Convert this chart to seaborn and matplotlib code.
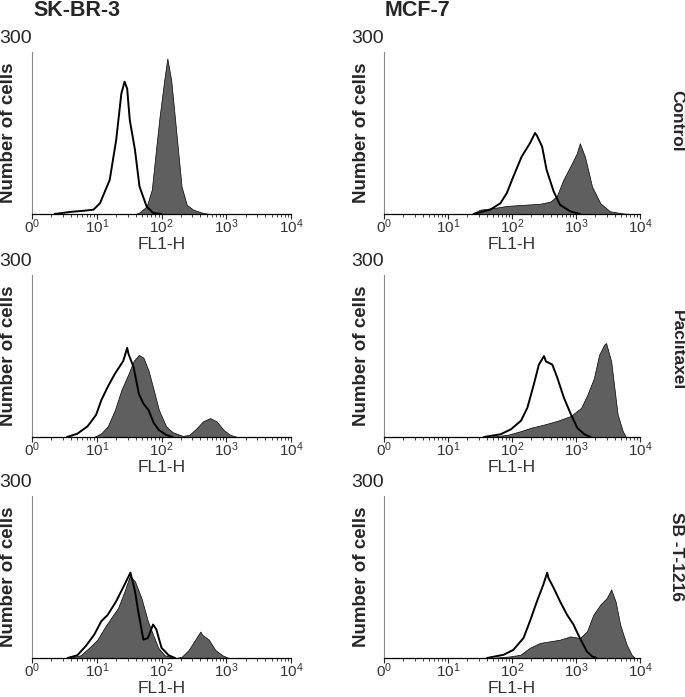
import numpy as np
import matplotlib
matplotlib.use("Agg")
import matplotlib.pyplot as plt
import seaborn as sns

sns.set_style("white")
plt.rcParams['font.family'] = ['Liberation Sans', 'DejaVu Sans']
plt.rcParams['mathtext.default'] = 'regular'

# positions are log10(FL1-H) in decades, heights are cell counts (axis 0-300)
cols = ["SK-BR-3", "MCF-7"]
rows = ["Control", "Paclitaxel", "SB -T-1216"]
tick_labels = ["0$^0$", "10$^1$", "10$^2$", "10$^3$", "10$^4$"]

# SK-BR-3 control
skbr_ctrl_open_x = [0.35, 0.6, 0.8, 0.95, 1.05, 1.2, 1.3, 1.38, 1.43, 1.47, 1.51, 1.59, 1.66, 1.77, 1.87, 2.0]
skbr_ctrl_open_y = [0, 4, 6, 8, 20, 63, 137, 223, 245, 232, 174, 119, 51, 14, 2, 0]
skbr_ctrl_fill_x = [1.6, 1.66, 1.77, 1.85, 1.92, 1.97, 2.05, 2.09, 2.15, 2.23, 2.31, 2.39, 2.49, 2.64, 2.75]
skbr_ctrl_fill_y = [0, 3, 14, 45, 125, 180, 255, 288, 248, 150, 51, 17, 8, 2, 0]

# MCF-7 control
mcf_ctrl_open_x = [1.4, 1.66, 1.82, 1.92, 2.02, 2.15, 2.28, 2.36, 2.39, 2.47, 2.54, 2.65, 2.75, 2.91, 3.06]
mcf_ctrl_open_y = [0, 8, 20, 39, 69, 106, 131, 150, 145, 125, 82, 42, 17, 5, 0]
mcf_ctrl_fill_x = [1.37, 1.5, 1.71, 1.92, 2.18, 2.44, 2.6, 2.7, 2.8, 2.91, 3.01, 3.06, 3.14, 3.25, 3.38, 3.53, 3.74, 3.85]
mcf_ctrl_fill_y = [0, 8, 11, 15, 17, 19, 23, 33, 63, 88, 112, 131, 106, 51, 20, 5, 1, 0]

# SK-BR-3 paclitaxel
skbr_pac_open_x = [0.54, 0.7, 0.86, 0.99, 1.07, 1.17, 1.28, 1.41, 1.47, 1.49, 1.57, 1.65, 1.72, 1.8, 1.88, 1.96, 2.07, 2.17]
skbr_pac_open_y = [0, 6, 20, 41, 68, 93, 117, 141, 165, 154, 129, 80, 62, 50, 26, 13, 4, 0]
skbr_pac_fill_x = [0.96, 1.07, 1.17, 1.28, 1.38, 1.49, 1.57, 1.65, 1.72, 1.8, 1.88, 1.96, 2.07, 2.17, 2.33,
                   2.43, 2.54, 2.64, 2.75, 2.85, 2.96, 3.06, 3.17]
skbr_pac_fill_y = [0, 7, 20, 50, 87, 117, 141, 152, 147, 123, 87, 50, 20, 9, 2,
                   4, 16, 29, 35, 29, 13, 4, 0]

# MCF-7 paclitaxel
mcf_pac_open_x = [1.56, 1.82, 1.98, 2.14, 2.24, 2.34, 2.42, 2.5, 2.53, 2.63, 2.71, 2.81, 2.92, 3.02, 3.13, 3.23]
mcf_pac_open_y = [0, 5, 14, 30, 54, 97, 134, 150, 140, 134, 109, 73, 42, 17, 5, 0]
mcf_pac_fill_x = [1.61, 1.93, 2.14, 2.29, 2.5, 2.71, 2.92, 3.08, 3.18, 3.28, 3.36, 3.44, 3.47, 3.55, 3.6,
                  3.65, 3.73, 3.78]
mcf_pac_fill_y = [0, 4, 11, 17, 23, 30, 39, 54, 79, 109, 152, 171, 174, 140, 91, 42, 11, 0]

# SK-BR-3 SB-T-1216
skbr_sbt_open_x = [0.55, 0.7, 0.83, 0.96, 1.07, 1.17, 1.3, 1.43, 1.52, 1.59, 1.64, 1.72, 1.79, 1.87, 1.92,
                   2.0, 2.11, 2.21]
skbr_sbt_open_y = [0, 5, 22, 43, 68, 80, 105, 136, 158, 124, 87, 34, 37, 62, 53, 19, 5, 0]
skbr_sbt_fill_x = [0.57, 0.75, 0.91, 1.01, 1.12, 1.22, 1.33, 1.43, 1.51, 1.59, 1.69, 1.79, 1.87, 1.95, 2.05,
                   2.21, 2.31, 2.42, 2.52, 2.6, 2.63, 2.73, 2.83, 2.94, 3.04]
skbr_sbt_fill_y = [0, 5, 22, 34, 56, 74, 93, 124, 152, 142, 111, 68, 43, 19, 5,
                   0, 2, 15, 34, 49, 43, 34, 15, 5, 0]

# MCF-7 SB-T-1216
mcf_sbt_open_x = [1.61, 1.87, 2.02, 2.18, 2.28, 2.39, 2.49, 2.55, 2.57, 2.65, 2.75, 2.86, 2.96, 3.06, 3.17,
                  3.25, 3.32]
mcf_sbt_open_y = [0, 6, 15, 37, 68, 105, 136, 158, 148, 130, 105, 80, 62, 37, 12, 3, 0]
mcf_sbt_fill_x = [1.66, 1.97, 2.13, 2.28, 2.44, 2.6, 2.75, 2.91, 3.06, 3.17, 3.27, 3.38, 3.48, 3.55, 3.62,
                  3.69, 3.79, 3.87, 3.92]
mcf_sbt_fill_y = [0, 3, 6, 19, 28, 31, 34, 40, 37, 49, 80, 99, 111, 127, 104, 62, 25, 6, 0]

panels = [
    [(skbr_ctrl_open_x, skbr_ctrl_open_y, skbr_ctrl_fill_x, skbr_ctrl_fill_y),
     (mcf_ctrl_open_x, mcf_ctrl_open_y, mcf_ctrl_fill_x, mcf_ctrl_fill_y)],
    [(skbr_pac_open_x, skbr_pac_open_y, skbr_pac_fill_x, skbr_pac_fill_y),
     (mcf_pac_open_x, mcf_pac_open_y, mcf_pac_fill_x, mcf_pac_fill_y)],
    [(skbr_sbt_open_x, skbr_sbt_open_y, skbr_sbt_fill_x, skbr_sbt_fill_y),
     (mcf_sbt_open_x, mcf_sbt_open_y, mcf_sbt_fill_x, mcf_sbt_fill_y)],
]

fig = plt.figure(figsize=(6.85, 6.97), dpi=100)
W, H = 685.0, 697.0
col_x = [(32, 291), (384, 640)]
row_y = [(52, 214), (275, 437), (496, 658)]
row_label_y = [121, 350, 557]

minor = [np.log10(k) + d for d in range(4) for k in range(2, 10)]

for r in range(3):
    for c in range(2):
        x0, x1 = col_x[c]
        y0, y1 = row_y[r]
        aw, ah = x1 - x0, y1 - y0
        ax = fig.add_axes([x0 / W, 1 - y1 / H, aw / W, ah / H])
        ox, oy, fx, fy = panels[r][c]
        ax.fill_between(fx, fy, 0, color="#5f5f5f", edgecolor="black", linewidth=0.5, zorder=2)
        sns.lineplot(x=ox, y=oy, ax=ax, color="black", linewidth=1.4, estimator=None, sort=False, zorder=3)
        ax.set_xlim(0, 4)
        ax.set_ylim(0, 300)
        ax.set_yticks([])
        ax.set_xticks(range(5))
        ax.set_xticks(minor, minor=True)
        ax.set_xticklabels(tick_labels, fontsize=11, color="#333333")
        ax.tick_params(axis="x", which="major", direction="out", length=3.5, width=0.8, pad=-1, bottom=True)
        ax.tick_params(axis="x", which="minor", direction="out", length=2, width=0.6, bottom=True)
        for s in ["top", "right"]:
            ax.spines[s].set_visible(False)
        ax.spines["left"].set_color("#888888")
        ax.spines["left"].set_linewidth(0.8)
        ax.spines["bottom"].set_color("black")
        ax.spines["bottom"].set_linewidth(0.9)
        ax.set_xlabel("FL1-H", fontsize=12.5, color="#333333", va="top")
        ax.xaxis.set_label_coords(0.5, -23.0 / ah)
        ax.set_ylabel("Number of cells", fontsize=13.5, fontweight="bold", va="center")
        ax.yaxis.set_label_coords(-23.0 / aw, 0.5)
        ax.text(0.0, 1.0 + 5.0 / ah, "300", transform=ax.transAxes, ha="right", va="bottom", fontsize=14)
        if r == 0:
            fig.text((x0 + 1) / W, 1 - 11 / H, cols[c], fontsize=15.5, fontweight="bold", ha="left", va="center")
    fig.text(677 / W, 1 - row_label_y[r] / H, rows[r], rotation=-90, fontsize=12.5, fontweight="bold",
             ha="center", va="center")

plt.savefig("out.png", dpi=100)
